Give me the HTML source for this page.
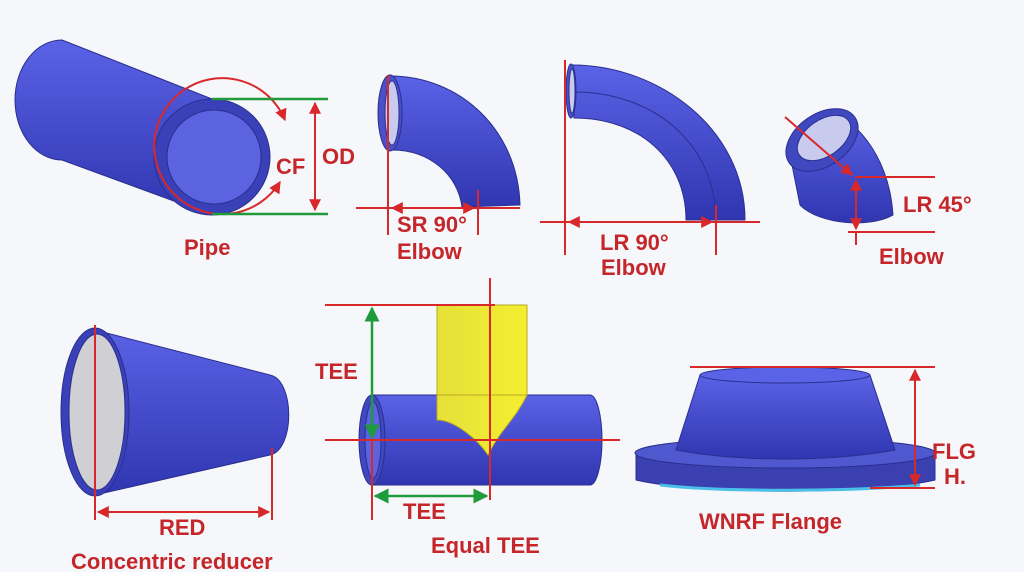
<!DOCTYPE html><html><head><style>body{margin:0;background:#f6f7fa}svg{display:block}text{font-family:"Liberation Sans",sans-serif;font-weight:bold;fill:#c4262a;font-size:22px}</style></head><body>
<svg width="1024" height="572" viewBox="0 0 1024 572">
<defs>
<linearGradient id="b" x1="0" y1="0" x2="0" y2="1"><stop offset="0" stop-color="#5a62e6"/><stop offset="1" stop-color="#3036b0"/></linearGradient>
<linearGradient id="y" x1="0" y1="0" x2="1" y2="0"><stop offset="0" stop-color="#e6e03a"/><stop offset="1" stop-color="#f4ee30"/></linearGradient>
<marker id="a" viewBox="0 0 10 10" refX="9" refY="5" markerWidth="6" markerHeight="6" orient="auto-start-reverse"><path d="M0,0L10,5L0,10z" fill="#d8282a"/></marker>
<marker id="g" viewBox="0 0 10 10" refX="9" refY="5" markerWidth="6" markerHeight="6" orient="auto-start-reverse"><path d="M0,0L10,5L0,10z" fill="#1f9a3c"/></marker>
</defs>
<g stroke="#2a2f8e" stroke-width="1">
<path d="M62,40 L212,99 L212,215 L62,160 A47,60 0 0 1 62,40z" fill="url(#b)"/>
<ellipse cx="212" cy="157" rx="58" ry="58" fill="#3a40b8"/>
<ellipse cx="214" cy="157" rx="47" ry="47" fill="#5b63e0"/>
<path d="M390,76 C460,76 518,130 520,205 L462,207 C458,175 430,150 392,150z" fill="url(#b)"/>
<ellipse cx="390" cy="113" rx="12" ry="38" fill="#4a50c8"/><ellipse cx="392" cy="113" rx="7" ry="32" fill="#c8cbee"/>
<path d="M572,65 C660,65 745,130 745,220 L686,220 C686,160 640,118 574,118z" fill="url(#b)"/>
<path d="M574,92 C650,92 715,140 716,220" fill="none"/>
<ellipse cx="571" cy="91" rx="5" ry="27" fill="#4a50c8"/><ellipse cx="572" cy="91" rx="3" ry="22" fill="#c8cbee"/>
<path d="M790,155 L840,115 C870,135 890,170 893,215 C870,228 820,225 800,205z" fill="url(#b)"/>
<ellipse cx="822" cy="140" rx="40" ry="26" transform="rotate(-35 822 140)" fill="#4048c0"/>
<ellipse cx="824" cy="138" rx="30" ry="18" transform="rotate(-35 824 138)" fill="#c8cbee"/>
<path d="M95,330 L270,375 C295,380 295,450 270,455 L95,495z" fill="url(#b)"/>
<ellipse cx="95" cy="412" rx="34" ry="84" fill="#3a40b8"/><ellipse cx="97" cy="412" rx="28" ry="78" fill="#d0d0d4"/>
<path d="M372,395 L590,395 A12,45 0 0 1 590,485 L372,485z" fill="url(#b)"/>
<rect x="437" y="305" width="90" height="90" fill="url(#y)" stroke="#bba820"/>
<path d="M437,395 L437,420 C455,420 478,440 488,455 C500,430 515,420 527,395z" fill="url(#y)" stroke="#bba820"/>
<ellipse cx="372" cy="440" rx="13" ry="45" fill="#4048c0"/><ellipse cx="373" cy="440" rx="8" ry="38" fill="#5b63e0"/>
<path d="M636,455 L636,480 C700,495 870,495 935,480 L935,455z" fill="#3a40b0"/>
<ellipse cx="785" cy="453" rx="150" ry="15" fill="#5058d0"/>
<path d="M700,375 L676,450 C740,462 830,462 895,450 L870,375z" fill="url(#b)"/>
<ellipse cx="785" cy="375" rx="85" ry="8" fill="#5a62e6"/>
<path d="M660,485 C720,492 850,492 920,485" stroke="#4ac0e8" stroke-width="3" fill="none"/>
</g>
<g stroke="#d8282a" stroke-width="2" fill="none">
<path d="M285,120 A68,68 0 1 0 280,182" marker-start="url(#a)" marker-end="url(#a)"/>
<line x1="315" y1="103" x2="315" y2="210" marker-start="url(#a)" marker-end="url(#a)"/>
<line x1="388" y1="75" x2="388" y2="235"/><line x1="356" y1="208" x2="520" y2="208"/><line x1="478" y1="190" x2="478" y2="235"/>
<line x1="392" y1="208" x2="474" y2="208" marker-start="url(#a)" marker-end="url(#a)"/>
<line x1="565" y1="60" x2="565" y2="255"/><line x1="540" y1="222" x2="760" y2="222"/><line x1="716" y1="205" x2="716" y2="255"/>
<line x1="569" y1="222" x2="712" y2="222" marker-start="url(#a)" marker-end="url(#a)"/>
<line x1="785" y1="117" x2="852" y2="175" marker-end="url(#a)"/>
<line x1="855" y1="177" x2="935" y2="177"/><line x1="848" y1="232" x2="935" y2="232"/><line x1="856" y1="232" x2="856" y2="245"/>
<line x1="856" y1="180" x2="856" y2="229" marker-start="url(#a)" marker-end="url(#a)"/>
<line x1="95" y1="325" x2="95" y2="520"/><line x1="272" y1="448" x2="272" y2="520"/>
<line x1="98" y1="512" x2="269" y2="512" marker-start="url(#a)" marker-end="url(#a)"/>
<line x1="325" y1="305" x2="495" y2="305"/><line x1="490" y1="278" x2="490" y2="500"/>
<line x1="325" y1="440" x2="620" y2="440"/><line x1="372" y1="385" x2="372" y2="520"/>
<line x1="690" y1="367" x2="935" y2="367"/><line x1="870" y1="488" x2="935" y2="488"/>
<line x1="915" y1="370" x2="915" y2="485" marker-start="url(#a)" marker-end="url(#a)"/>
</g>
<g stroke="#1f9a3c" stroke-width="2.5" fill="none">
<line x1="212" y1="99" x2="328" y2="99"/><line x1="212" y1="214" x2="328" y2="214"/>
<line x1="372" y1="308" x2="372" y2="438" marker-start="url(#g)" marker-end="url(#g)"/>
<line x1="375" y1="496" x2="487" y2="496" marker-start="url(#g)" marker-end="url(#g)"/>
</g>
<text x="276" y="174">CF</text><text x="322" y="164">OD</text><text x="184" y="255">Pipe</text>
<text x="397" y="232">SR 90°</text><text x="397" y="259">Elbow</text>
<text x="600" y="250">LR 90°</text><text x="601" y="275">Elbow</text>
<text x="903" y="212">LR 45°</text><text x="879" y="264">Elbow</text>
<text x="315" y="379">TEE</text><text x="403" y="519">TEE</text><text x="431" y="553">Equal TEE</text>
<text x="159" y="535">RED</text><text x="71" y="569">Concentric reducer</text>
<text x="932" y="459">FLG</text><text x="944" y="484">H.</text><text x="699" y="529">WNRF Flange</text>
</svg></body></html>
